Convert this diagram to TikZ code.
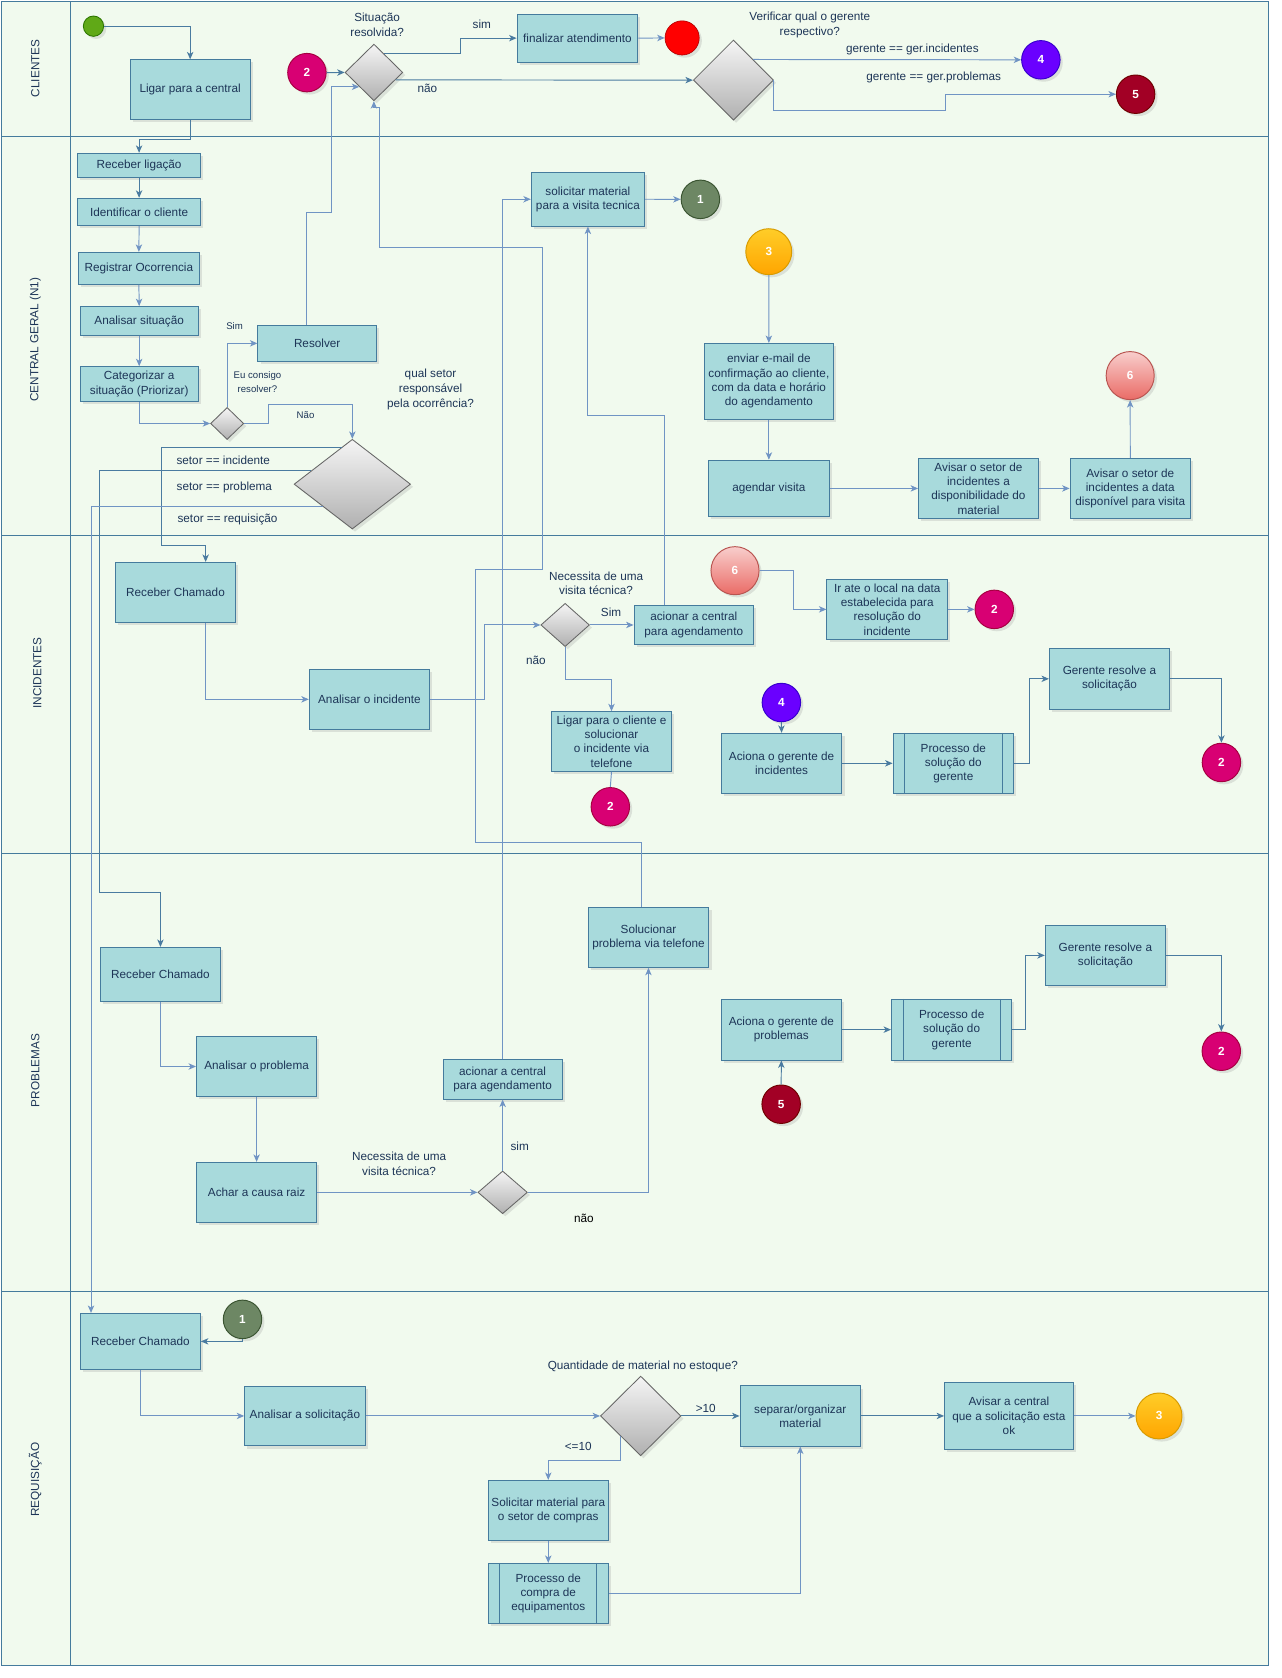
\documentclass[tikz,border=0pt]{standalone}
\usepackage{fontspec}
\setmainfont{Liberation Sans}
\usetikzlibrary{shapes.geometric,arrows.meta,calc,shadows}
\definecolor{lanefill}{HTML}{F1FAEE}
\definecolor{lanestroke}{HTML}{457B9D}
\definecolor{boxfill}{HTML}{A8DADC}
\definecolor{txt}{HTML}{1D3557}
\definecolor{cdark}{HTML}{4A7BA0}
\definecolor{clight}{HTML}{7094C4}
\definecolor{dtop}{HTML}{F5F5F5}
\definecolor{dbot}{HTML}{B0B0B0}
\definecolor{dstroke}{HTML}{666666}
\definecolor{magc}{HTML}{D80073}
\definecolor{mags}{HTML}{A50040}
\definecolor{purc}{HTML}{6A00FF}
\definecolor{purs}{HTML}{3700CC}
\definecolor{redc}{HTML}{A20025}
\definecolor{reds}{HTML}{6F0000}
\definecolor{grnc}{HTML}{6D8764}
\definecolor{grns}{HTML}{3A5431}
\definecolor{orgt}{HTML}{FFCD28}
\definecolor{orgb}{HTML}{FFA500}
\definecolor{orgs}{HTML}{D79B00}
\definecolor{pnkt}{HTML}{F8CECC}
\definecolor{pnkb}{HTML}{EA6B66}
\definecolor{pnks}{HTML}{B85450}
\definecolor{stc}{HTML}{60A917}
\definecolor{sts}{HTML}{2D7600}
\definecolor{endfill}{HTML}{FF0000}
\definecolor{endstroke}{HTML}{B20000}
\tikzset{
  shd/.style={drop shadow={shadow xshift=2.5pt,shadow yshift=-2.5pt,opacity=0.2}},
  bx/.style={rectangle,draw=lanestroke,fill=boxfill,text=txt,align=center,inner sep=1pt,line width=0.9pt,font=\fontsize{11}{13.4}\selectfont,shd},
  dmd/.style={diamond,draw=dstroke,top color=dtop,bottom color=dbot,inner sep=0pt,line width=0.8pt,shd},
  numc/.style={circle,inner sep=0pt,minimum size=36pt,text=white,font=\bfseries\fontsize{11}{13}\selectfont,line width=0.9pt,shd},
  m2/.style={numc,fill=magc,draw=mags},
  lbl/.style={text=txt,align=center,inner sep=0pt,font=\fontsize{11}{14}\selectfont},
  slbl/.style={text=txt,align=center,inner sep=0pt,font=\fontsize{9}{13.4}\selectfont},
  lanelbl/.style={text=txt,rotate=90,inner sep=0pt,font=\fontsize{11}{13}\selectfont},
  cd/.style={draw=cdark,line width=0.9pt,-{Stealth[length=7pt,width=6pt,inset=2pt]}},
  cl/.style={draw=clight,line width=0.9pt,-{Stealth[length=7pt,width=6pt,inset=2pt]}},
  sub/.style={draw=lanestroke,line width=0.9pt},
}
\begin{document}
\begin{tikzpicture}[x=1pt,y=-1pt]
\useasboundingbox (0,0) rectangle (1200,1570.7);
\fill[white] (0,0) rectangle (1200,1570.7);
% lanes
\fill[lanefill] (1,1) rectangle (1187,1558.5);
\draw[lanestroke,line width=0.9pt] (1,1) rectangle (1187,1558.5);
\draw[lanestroke,line width=0.9pt] (66,1) -- (66,1558.5);
\foreach \yy in {128,500.8,798.5,1209.1} \draw[lanestroke,line width=0.9pt] (1,\yy) -- (1187,\yy);
\node[lanelbl] (lcli) at (33,64) {CLIENTES};
\node[lanelbl] (lcen) at (33,318) {CENTRAL GERAL (N1)};
\node[lanelbl] (linc) at (35,630) {INCIDENTES};
\node[lanelbl] (lpro) at (33,1002) {PROBLEMAS};
\node[lanelbl] (lreq) at (33,1385) {REQUISIÇÃO};

% ---------- CLIENTES ----------
\node[circle,minimum size=19pt,inner sep=0pt,fill=stc,draw=sts,line width=0.8pt,shd] (start) at (87.5,24.5) {};
\node[bx,minimum width=112pt,minimum height=56pt] (ligar) at (178,84) {Ligar para a central};
\node[m2] (c2a) at (287.3,68) {2};
\node[dmd,minimum width=54pt,minimum height=53pt] (d1) at (350,67.8) {};
\node[lbl] (td1) at (353,23) {Situação\\resolvida?};
\node[bx,minimum width=113pt,minimum height=45pt] (fin) at (540.5,35.7) {finalizar atendimento};
\node[circle,minimum size=32pt,inner sep=0pt,fill=endfill,draw=endstroke,line width=0.6pt,shd] (endn) at (638.5,35.5) {};
\node[dmd,minimum width=75pt,minimum height=75pt] (d2) at (686.5,75) {};
\node[lbl] (td2) at (758,23) {Verificar qual o gerente\\respectivo?};
\node[numc,fill=purc,draw=purs] (c4a) at (974.3,56) {4};
\node[numc,fill=redc,draw=reds] (c5a) at (1063,88.2) {5};

% ---------- CENTRAL ----------
\node[bx,minimum width=115.4pt,minimum height=22.6pt] (rlig) at (130.2,154.8) {Receber ligação};
\node[bx,minimum width=115.4pt,minimum height=25.6pt] (ident) at (130.2,198.4) {Identificar o cliente};
\node[bx,minimum width=114pt,minimum height=30pt] (regis) at (130,251.2) {Registrar Ocorrencia};
\node[bx,minimum width=110.3pt,minimum height=27pt] (anasit) at (130.3,300.5) {Analisar situação};
\node[bx,minimum width=110.3pt,minimum height=32.5pt] (categ) at (130.3,359.5) {Categorizar a\\situação (Priorizar)};
\node[dmd,minimum width=31pt,minimum height=30pt] (sd) at (212.6,396.4) {};
\node[bx,minimum width=111pt,minimum height=33pt] (resolver) at (296.9,321.4) {Resolver};
\node[dmd,minimum width=109pt,minimum height=84pt] (d3) at (329.8,453.2) {};
\node[lbl] (td3) at (403,364.5) {qual setor\\responsável\\pela ocorrência?};
\node[bx,minimum width=106pt,minimum height=50.3pt] (solmat) at (550.3,186.5) {solicitar material\\para a visita tecnica};
\node[numc,fill=grnc,draw=grns] (c1a) at (655.6,186.6) {1};
\node[numc,minimum size=43pt,top color=orgt,bottom color=orgb,draw=orgs] (c3a) at (719.6,235.6) {3};
\node[bx,minimum width=121.3pt,minimum height=71pt] (enviar) at (719.7,357) {enviar e-mail de\\confirmação ao cliente,\\com da data e horário\\do agendamento};
\node[bx,minimum width=112.6pt,minimum height=52.8pt] (agendar) at (719.7,457.2) {agendar visita};
\node[bx,minimum width=112.2pt,minimum height=56.2pt] (avis1) at (915.9,457.2) {Avisar o setor de\\incidentes a\\disponibilidade do\\material};
\node[bx,minimum width=112.7pt,minimum height=56.2pt] (avis2) at (1058,457.2) {Avisar o setor de\\incidentes a data\\disponível para visita};
\node[numc,minimum size=45pt,top color=pnkt,bottom color=pnkb,draw=pnks] (c6a) at (1057.9,351.6) {6};

% ---------- INCIDENTES ----------
\node[bx,minimum width=112.2pt,minimum height=56.1pt] (rinc) at (164.3,554.5) {Receber Chamado};
\node[bx,minimum width=112.6pt,minimum height=56.2pt] (ainc) at (345.8,654.6) {Analisar o incidente};
\node[dmd,minimum width=45.5pt,minimum height=40.5pt] (d4) at (529,585) {};
\node[lbl] (tnec1) at (558,546) {Necessita de uma\\visita técnica?};
\node[bx,minimum width=111.8pt,minimum height=36.5pt] (acinc) at (649.4,585) {acionar a central\\para agendamento};
\node[bx,minimum width=112.6pt,minimum height=55.8pt] (ligtel) at (572.4,694.1) {Ligar para o cliente e\\solucionar\\o incidente via\\telefone};
\node[m2] (c2b) at (571.3,755.2) {2};
\node[numc,minimum size=45pt,top color=pnkt,bottom color=pnkb,draw=pnks] (c6b) at (688,534.2) {6};
\node[bx,minimum width=113pt,minimum height=56.2pt] (irate) at (830.5,570.4) {Ir ate o local na data\\estabelecida para\\resolução do\\incidente};
\node[m2] (c2c) at (930.7,570.4) {2};
\node[bx,minimum width=112.4pt,minimum height=57pt] (ger1) at (1038.5,635.4) {Gerente resolve a\\solicitação};
\node[numc,fill=purc,draw=purs] (c4b) at (731.4,657.6) {4};
\node[bx,minimum width=112.8pt,minimum height=56.2pt] (aciona1) at (731.6,714.5) {Aciona o gerente de\\incidentes};
\node[bx,minimum width=112.8pt,minimum height=56.2pt] (proc1) at (892.4,714.5) {Processo de\\solução do\\gerente};
\node[m2] (c2d) at (1143.3,713.7) {2};

% ---------- PROBLEMAS ----------
\node[bx,minimum width=112.5pt,minimum height=50.8pt] (rprob) at (150.2,912.2) {Receber Chamado};
\node[bx,minimum width=112.5pt,minimum height=56.6pt] (aprob) at (240.2,998.3) {Analisar o problema};
\node[bx,minimum width=112.5pt,minimum height=56.2pt] (achar) at (240.2,1116.1) {Achar a causa raiz};
\node[dmd,minimum width=46.3pt,minimum height=40pt] (d5) at (470.5,1116.1) {};
\node[lbl] (tnec2) at (373.6,1089) {Necessita de uma\\visita técnica?};
\node[bx,minimum width=111.7pt,minimum height=37pt] (acprob) at (470.5,1010.3) {acionar a central\\para agendamento};
\node[bx,minimum width=113pt,minimum height=56.2pt] (solprob) at (607,877.4) {Solucionar\\problema via telefone};
\node[bx,minimum width=112pt,minimum height=56.8pt] (aciona2) at (731.4,963.8) {Aciona o gerente de\\problemas};
\node[bx,minimum width=112.6pt,minimum height=56.8pt] (proc2) at (890.8,963.8) {Processo de\\solução do\\gerente};
\node[bx,minimum width=112.6pt,minimum height=56.1pt] (ger2) at (1034.7,894.3) {Gerente resolve a\\solicitação};
\node[m2] (c2e) at (1143.2,984) {2};
\node[numc,fill=redc,draw=reds] (c5b) at (731.2,1033.6) {5};

% ---------- REQUISICAO ----------
\node[bx,minimum width=112.4pt,minimum height=52.4pt] (rreq) at (131.4,1255.6) {Receber Chamado};
\node[numc,fill=grnc,draw=grns] (c1b) at (227,1235) {1};
\node[bx,minimum width=112.8pt,minimum height=56.1pt] (asol) at (285.4,1325.4) {Analisar a solicitação};
\node[dmd,minimum width=75.3pt,minimum height=74.6pt] (d6) at (599.7,1325.4) {};
\node[lbl] (tqua) at (601.7,1279.3) {Quantidade de material no estoque?};
\node[bx,minimum width=112.8pt,minimum height=56.2pt] (solcomp) at (513.2,1413.8) {Solicitar material para\\o setor de compras};
\node[bx,minimum width=112.8pt,minimum height=56.2pt] (proccomp) at (513.2,1491.5) {Processo de\\compra de\\equipamentos};
\node[bx,minimum width=112.8pt,minimum height=56.4pt] (sep) at (749.1,1325.4) {separar/organizar\\material};
\node[bx,minimum width=120.5pt,minimum height=62.6pt] (avc) at (944.4,1325.4) {Avisar a central\\que a solicitação esta\\ok};
\node[numc,minimum size=43pt,top color=orgt,bottom color=orgb,draw=orgs] (c3b) at (1084.9,1325.4) {3};

% subprocess inner lines
\foreach \p in {proc1,proc2,proccomp}{
  \draw[sub] ([xshift=11.3pt]\p.north west) -- ([xshift=11.3pt]\p.south west);
  \draw[sub] ([xshift=-11.3pt]\p.north east) -- ([xshift=-11.3pt]\p.south east);
}

% ---------- CONNECTORS: CLIENTES ----------
\draw[cd] (start.east) -| (ligar.north);
\draw[cd] (ligar.south) -- ++(0,18.5) -| (rlig.north);
\draw[cd] (c2a.east) -- (d1.west);
\draw[cd] ($(d1.north)!0.35!(d1.east)$) -- ++(71,0) |- (fin.west);
\node[lbl] (tsim1) at (451,23) {sim};
\draw[cd] ($(d1.east)!0.26!(d1.south)$) -- (d2.west);
\node[lbl] (tnao1) at (400,83) {não};
\draw[cl] (fin.east) -- (endn.west);
\draw[cl] ($(d2.north)!0.49!(d2.east)$) -- (c4a.west);
\node[lbl] (tg4) at (854,46) {gerente == ger.incidentes};
\draw[cl] (d2.east) |- (884.6,103) |- (c5a.west);
\node[lbl] (tg5) at (874,72.4) {gerente == ger.problemas};

% ---------- CONNECTORS: CENTRAL ----------
\draw[cd] (rlig.south) -- (ident.north);
\draw[cl] (ident.south) -- (regis.north);
\draw[cl] (regis.south) -- (anasit.north);
\draw[cl] (anasit.south) -- (categ.north);
\draw[cl] (categ.south) |- (sd.west);
\draw[cl] (sd.north) |- (resolver.west);
\node[slbl] (tsim2) at (219.6,304.8) {Sim};
\node[slbl] (teu) at (241,357.5) {Eu consigo\\resolver?};
\draw[cl] (sd.east) -| (251.4,378.5) -| (d3.north);
\node[slbl] (tnao2) at (286,389) {Não};
\draw[cl] ([xshift=-10pt]resolver.north) |- (310.5,199) |- ($(d1.west)!0.5!(d1.south)$);
\draw[cl] ([xshift=-7pt]solprob.north) |- (445,789) |- (508,533) |- (355.5,232) |- (350,101) -- (d1.south);
\draw[cl] (acprob.north) |- (solmat.west);
\draw[cl] ([xshift=-27.6pt]acinc.north) |- (550.3,388.8) -- (solmat.south);
\draw[cl] (solmat.east) -- (c1a.west);
\draw[cl] (c3a.south) -- (enviar.north);
\draw[cl] (enviar.south) -- (agendar.north);
\draw[cl] (agendar.east) -- (avis1.west);
\draw[cl] (avis1.east) -- (avis2.west);
\draw[cl] (avis2.north) -- (c6a.south);
\draw[cd] ($(d3.north)!0.18!(d3.west)$) -| (151.4,511) -| ([xshift=28.2pt]rinc.north);
\node[lbl] (tinc) at (209,430.6) {setor == incidente};
\draw[cd] ($(d3.north)!0.7!(d3.west)$) -| (93,835) -| (rprob.north);
\node[lbl] (tpro) at (210,456.5) {setor == problema};
\draw[cl] ($(d3.west)!0.5!(d3.south)$) -| ([xshift=-46.2pt]rreq.north);
\node[lbl] (treq) at (213,486) {setor == requisição};

% ---------- CONNECTORS: INCIDENTES ----------
\draw[cl] ([xshift=28.2pt]rinc.south) |- (ainc.west);
\draw[cl] (ainc.east) -| (453.7,585) -- (d4.west);
\draw[cl] (d4.east) -- (acinc.west);
\node[lbl] (tsim3) at (572,573.5) {Sim};
\draw[cl] (d4.south) -- ++(0,30.5) -| (ligtel.north);
\node[lbl] (tnao3) at (501.7,617.8) {não};
\draw[draw=clight,line width=0.9pt] (ligtel.south) -- (c2b.north);
\draw[cl] (c6b.east) -| (742.4,570.4) -- (irate.west);
\draw[cl] (irate.east) -- (c2c.west);
\draw[cd] (c4b.south) -- (aciona1.north);
\draw[cd] (aciona1.east) -- (proc1.west);
\draw[cd] (proc1.east) -| (963.2,635.4) -- (ger1.west);
\draw[cd] (ger1.east) -| (c2d.north);

% ---------- CONNECTORS: PROBLEMAS ----------
\draw[cl] (rprob.south) |- (aprob.west);
\draw[cl] (aprob.south) -- (achar.north);
\draw[cl] (achar.east) -- (d5.west);
\draw[cl] (d5.north) -- (acprob.south);
\node[lbl] (tsim4) at (486.5,1073.4) {sim};
\draw[cl] (d5.east) -| (solprob.south);
\node[lbl,text=black] (tnao4) at (546.6,1140) {não};
\draw[cd] (c5b.north) -- (aciona2.south);
\draw[cd] (aciona2.east) -- (proc2.west);
\draw[cd] (proc2.east) -| (960,894.3) -- (ger2.west);
\draw[cd] (ger2.east) -| (c2e.north);

% ---------- CONNECTORS: REQUISICAO ----------
\draw[cd] (c1b.south) |- (rreq.east);
\draw[cl] (rreq.south) |- (asol.west);
\draw[cl] (asol.east) -- (d6.west);
\draw[cd] (d6.east) -- (sep.west);
\node[lbl] (tgt) at (660.6,1318.3) {>10};
\draw[cl] ($(d6.west)!0.5!(d6.south)$) -- ++(0,23) -| (solcomp.north);
\node[lbl] (tle) at (541.2,1354) {<=10};
\draw[cl] (solcomp.south) -- (proccomp.north);
\draw[cl] (proccomp.east) -| (sep.south);
\draw[cd] (sep.east) -- (avc.west);
\draw[cl] (avc.east) -- (c3b.west);
\end{tikzpicture}
\end{document}
